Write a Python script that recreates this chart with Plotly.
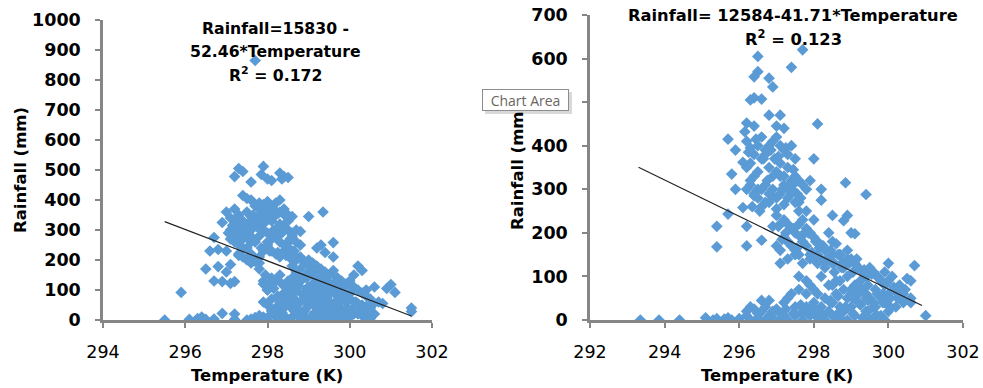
import plotly.graph_objects as go

# ---------------- data: left panel ----------------
temp_left = [
    # top / outliers
    297.7, 297.3, 297.4, 297.2, 297.6, 297.9, 297.85, 298.0, 298.1, 298.3, 298.4, 298.5, 298.35, 297.4, 297.5, 297.6,
    # left scattered
    296.7, 296.9, 296.6, 296.8, 296.5, 296.8, 296.7, 296.9, 297.1, 297.2, 297.0, 297.1, 295.9, 297.0, 297.3, 297.1,
    # zeros left
    295.5, 296.1, 296.4, 296.5, 296.7, 296.9, 297.2, 297.2, 297.6, 297.7, 297.8, 296.3, 297.5,
    # main upper blob
    297.0, 297.1, 297.2, 297.3, 297.4, 297.5, 297.6, 297.7, 297.8, 297.9, 298.0, 298.1, 298.2, 298.3, 298.4, 298.5,
    297.1, 297.2, 297.3, 297.4, 297.5, 297.6, 297.7, 297.8, 297.9, 298.0, 298.1, 298.2, 298.3, 298.4, 298.5, 298.6,
    297.2, 297.3, 297.4, 297.5, 297.6, 297.7, 297.8, 297.9, 298.0, 298.1, 298.2, 298.3, 298.4, 298.5, 298.6, 298.7,
    297.3, 297.4, 297.5, 297.6, 297.7, 297.8, 297.9, 298.0, 298.1, 298.2, 298.3, 298.4, 298.5, 298.6, 298.7, 298.8,
    297.5, 297.6, 297.4, 297.3, 297.8, 297.7, 298.0, 298.2, 298.0, 298.1, 297.9, 298.3, 298.5, 298.6, 298.7, 298.8, 298.5,
    297.25, 297.45, 297.65, 297.85, 298.05, 298.25, 298.45, 297.35, 297.55, 297.75, 297.95, 298.15, 298.35, 298.55,
    297.15, 297.35, 297.55, 297.75, 297.95, 298.15, 298.35, 298.55,
    297.05, 297.25, 297.45, 297.65, 297.85, 298.05, 298.25, 298.45, 298.65,
    # diagonal band
    298.6, 298.8, 299.0, 299.1, 299.2, 299.3, 299.4, 299.5, 299.6, 299.7, 299.8, 299.9, 300.0, 300.1, 300.2, 300.3, 300.4, 300.5,
    298.6, 298.8, 299.0, 299.1, 299.2, 299.3, 299.4, 299.5, 299.6, 299.7, 299.8, 299.9, 300.0, 300.1, 300.2, 300.3, 300.4, 300.5,
    298.6, 298.8, 299.0, 299.1, 299.2, 299.3, 299.4, 299.5, 299.6, 299.7, 299.8, 299.9, 300.0, 300.1, 300.2, 300.3, 300.4, 300.5,
    298.7, 298.9, 299.05, 299.25, 299.45, 299.65, 299.85, 300.05, 298.75, 298.95, 299.15, 299.35, 299.55, 299.75,
    # lower cluster
    297.9, 298.0, 298.1, 298.2, 298.3, 298.4, 298.5, 298.6, 298.7, 298.8, 298.9, 299.0, 299.1, 299.2, 299.3, 299.4, 299.5, 299.6, 299.7, 299.8, 299.9, 300.0,
    297.9, 298.0, 298.1, 298.2, 298.3, 298.4, 298.5, 298.6, 298.7, 298.8, 298.9, 299.0, 299.1, 299.2, 299.3, 299.4, 299.5, 299.6, 299.7, 299.8, 299.9, 300.0,
    297.9, 298.0, 298.1, 298.2, 298.3, 298.4, 298.5, 298.6, 298.7, 298.8, 298.9, 299.0, 299.1, 299.2, 299.3, 299.4, 299.5, 299.6, 299.7, 299.8, 299.9, 300.0,
    298.15, 298.35, 298.55, 298.75, 298.95, 299.15, 299.35, 299.55, 299.75, 299.95, 298.25, 298.45, 298.65, 298.85, 299.05, 299.25, 299.45, 299.65,
    298.05, 298.25, 298.45, 298.65, 298.85, 299.05, 299.25, 299.45, 299.65, 299.85, 300.05, 300.25,
    298.1, 298.3, 298.5, 298.7, 298.9, 299.1, 299.3, 299.5, 299.7, 299.9, 300.1,
    298.15, 298.35, 298.55, 298.75, 298.95, 299.15, 299.35, 299.55, 299.75, 299.95,
    # tail / misc
    300.2, 300.3, 300.6, 300.9, 301.0, 301.1, 300.8, 301.5, 301.5, 300.5, 300.6, 299.0, 299.35, 298.6, 299.6, 299.3, 299.2, 299.6, 299.4, 300.1, 300.7, 300.4,
    297.9, 298.0, 298.05, 297.8, 297.95, 300.15, 300.35, 300.55, 300.25,
]
rain_left = [
    865, 505, 495, 478, 460, 512, 485, 470, 465, 490, 478, 475, 470, 415, 405, 400,
    275, 325, 230, 235, 170, 178, 130, 128, 122, 128, 160, 185, 92, 230, 215, 270,
    0, 2, 10, 2, 3, 22, 20, 2, 3, 8, 15, 5, 0,
    360, 340, 370, 350, 330, 360, 345, 380, 390, 385, 395, 380, 390, 400, 370, 350,
    300, 290, 320, 310, 280, 300, 320, 330, 350, 340, 330, 350, 320, 310, 300, 290,
    260, 250, 270, 240, 220, 260, 280, 300, 290, 270, 280, 260, 250, 240, 270, 300,
    220, 210, 200, 190, 195, 210, 230, 250, 230, 220, 210, 230, 240, 200, 210, 250,
    300, 260, 240, 280, 190, 200, 260, 300, 370, 340, 320, 360, 330, 280, 260, 295, 240,
    330, 320, 350, 365, 360, 355, 345, 300, 285, 310, 360, 370, 310, 265,
    315, 335, 325, 345, 335, 300, 290, 270,
    290, 305, 280, 270, 240, 230, 225, 215, 230,
    230, 210, 200, 190, 180, 170, 160, 150, 165, 140, 130, 120, 130, 110, 100, 90, 80, 70,
    180, 170, 160, 150, 140, 130, 120, 110, 100, 95, 90, 80, 70, 60, 55, 50, 45, 40,
    120, 130, 110, 100, 90, 85, 70, 60, 50, 40, 35, 30, 25, 20, 20, 15, 10, 5,
    200, 190, 175, 160, 145, 120, 110, 95, 150, 140, 125, 115, 100, 75,
    60, 50, 70, 40, 30, 90, 60, 80, 100, 60, 70, 50, 60, 40, 60, 30, 40, 20, 50, 30, 10, 20,
    10, 5, 20, 10, 5, 15, 0, 10, 20, 5, 10, 0, 10, 5, 15, 0, 5, 10, 0, 5, 0, 10,
    120, 100, 30, 130, 60, 40, 110, 140, 50, 130, 30, 90, 120, 80, 100, 110, 90, 120, 80, 100, 60, 90,
    35, 25, 45, 35, 40, 25, 45, 35, 25, 40, 80, 75, 70, 85, 65, 70, 75, 60,
    15, 25, 5, 30, 20, 10, 25, 15, 30, 20, 35, 45,
    140, 150, 130, 160, 145, 155, 135, 125, 140, 115, 105,
    105, 120, 95, 115, 105, 115, 50, 55, 110, 80,
    180, 165, 110, 105, 118, 92, 55, 40, 28, 25, 20, 345, 360, 345, 258, 250, 240, 210, 225, 150, 60, 100,
    130, 100, 120, 170, 150, 60, 40, 50, 30,
]

# ---------------- data: right panel ----------------
temp_right = [
    # zeros far left
    293.35, 293.85, 294.4, 295.1, 295.4, 295.6, 295.7, 295.8, 296.0, 295.3, 296.2,
    # left scattered
    295.4, 295.4, 295.7, 295.7, 295.8, 295.9, 296.1, 296.2, 296.2, 295.9, 296.1, 296.6, 296.9,
    # top
    296.5, 296.5, 296.4, 296.8, 296.9, 296.3, 296.4, 296.6, 297.4, 297.7, 296.8, 297.1, 298.1, 296.2, 296.4, 296.15, 297.0, 297.2,
    # dense 296-297.6 at 270-430
    296.2, 296.3, 296.4, 296.5, 296.6, 296.7, 296.8, 296.9, 297.0, 297.1, 297.2, 297.3, 297.4, 297.5,
    296.2, 296.3, 296.4, 296.5, 296.6, 296.7, 296.8, 296.9, 297.0, 297.1, 297.2, 297.3, 297.4, 297.5,
    296.2, 296.3, 296.4, 296.5, 296.6, 296.7, 296.8, 296.9, 297.0, 297.1, 297.2, 297.3, 297.4, 297.5,
    296.35, 296.55, 296.75, 296.95, 297.15, 297.35, 297.55, 297.6, 297.7, 297.8, 297.9, 297.65,
    296.25, 296.45, 296.65, 296.85, 297.05, 297.25, 297.45,
    296.3, 296.5, 296.7, 296.9, 297.1, 297.3, 297.5,
    296.4, 296.6, 296.8, 297.0, 297.2, 297.4, 297.6,
    # mid band 297-299 at 120-250
    297.0, 297.1, 297.2, 297.3, 297.4, 297.5, 297.6, 297.7, 297.8, 297.9, 298.0, 298.1, 298.2, 298.3,
    297.0, 297.1, 297.2, 297.3, 297.4, 297.5, 297.6, 297.7, 297.8, 297.9, 298.0, 298.1, 298.2, 298.3,
    297.1, 297.3, 297.5, 297.7, 297.9, 298.1, 298.3, 298.5, 298.7, 298.9, 297.6, 297.8, 298.0, 298.4,
    298.0, 298.2, 298.2, 298.5, 298.9, 298.8, 299.0, 299.1, 298.85, 299.4, 298.6, 298.5,
    297.05, 297.25, 297.45, 297.65, 297.85, 298.05, 298.25, 298.45, 298.65,
    297.15, 297.35, 297.55, 297.75, 297.95, 298.15, 298.35, 298.55, 298.75,
    # lower band 298.5-300.7 at 30-170
    298.5, 298.7, 298.9, 299.0, 299.1, 299.2, 299.3, 299.4, 299.5, 299.6, 299.7, 299.8, 299.9, 300.0, 300.2, 300.4, 300.6,
    298.5, 298.7, 298.9, 299.0, 299.1, 299.2, 299.3, 299.4, 299.5, 299.6, 299.7, 299.8, 299.9, 300.0, 300.2, 300.4, 300.6,
    298.6, 298.8, 299.05, 299.25, 299.45, 299.65, 299.85, 300.05, 300.25, 300.45,
    298.55, 298.75, 298.95, 299.15, 299.35, 299.55, 299.75, 299.95, 300.15, 300.35, 300.55,
    298.45, 298.65, 298.85, 299.05, 299.25, 299.45, 299.65, 299.85, 300.05, 300.25,
    300.0, 300.7, 301.0, 300.5, 300.6, 300.3, 300.1, 299.9,
    # lower clusters near zero
    296.2, 296.3, 296.4, 296.5, 296.6, 296.7, 296.8, 296.9, 297.0, 297.1, 297.2,
    296.3, 296.5, 296.7, 296.9, 297.1, 296.6, 296.8,
    297.2, 297.3, 297.4, 297.5, 297.6, 297.7, 297.8, 297.9, 298.0, 298.1, 298.2, 298.3, 298.4, 298.5, 298.6, 298.7, 298.8, 298.9, 299.0, 299.2, 299.4, 299.6, 299.8, 300.0,
    297.3, 297.5, 297.7, 297.9, 298.1, 298.3, 298.5, 298.7, 298.9, 299.1, 299.3, 299.5, 299.7, 299.9,
    297.6, 297.8, 298.0, 298.2, 298.4, 298.6, 298.8, 299.0, 299.2, 299.4,
    297.7, 297.9, 298.1, 297.8,
    297.25, 297.45, 297.65, 297.85, 298.05, 298.25, 298.45, 298.65, 298.85, 299.05, 299.25, 299.45, 299.65, 299.85,
]
rain_right = [
    0, 0, 0, 5, 3, 2, 5, 0, 3, 0, 10,
    215, 168, 243, 415, 335, 300, 258, 215, 170, 390, 362, 183, 215,
    605, 570, 558, 555, 535, 505, 510, 507, 580, 620, 470, 470, 450, 452, 445, 432, 445, 440,
    410, 395, 380, 400, 420, 390, 400, 410, 420, 400, 390, 380, 400, 370,
    350, 360, 330, 340, 370, 380, 350, 330, 340, 360, 330, 350, 320, 330,
    300, 310, 290, 280, 300, 270, 290, 300, 280, 290, 310, 280, 300, 270,
    260, 250, 320, 370, 300, 310, 290, 320, 310, 300, 320, 280,
    385, 415, 370, 390, 375, 395, 345,
    320, 300, 310, 285, 330, 300, 315,
    285, 260, 270, 255, 265, 290, 270,
    240, 220, 230, 220, 210, 200, 220, 230, 210, 200, 190, 180, 170, 160,
    170, 160, 190, 180, 170, 160, 150, 180, 170, 150, 140, 150, 140, 130,
    130, 140, 150, 130, 140, 130, 120, 180, 150, 140, 250, 250, 230, 200,
    370, 300, 275, 240, 240, 228, 200, 198, 315, 288, 175, 150,
    215, 200, 210, 190, 200, 180, 170, 160, 150,
    185, 175, 165, 200, 155, 165, 140, 130, 130,
    130, 150, 160, 140, 130, 120, 110, 100, 120, 110, 100, 90, 80, 90, 70, 60, 50,
    80, 90, 100, 70, 80, 60, 70, 60, 50, 40, 60, 50, 40, 60, 30, 40, 40,
    60, 120, 110, 90, 80, 70, 60, 50, 60, 70,
    110, 120, 130, 140, 115, 105, 95, 85, 75, 60, 45,
    45, 55, 30, 50, 35, 45, 30, 40, 30, 50,
    130, 125, 10, 95, 90, 80, 100, 110,
    20, 30, 25, 15, 20, 30, 10, 20, 25, 15, 10,
    0, 5, 0, 5, 0, 45, 45,
    40, 50, 60, 30, 70, 20, 60, 80, 40, 60, 30, 50, 20, 40, 10, 30, 20, 50, 30, 40, 20, 30, 10, 20,
    0, 10, 0, 10, 5, 0, 10, 5, 0, 10, 5, 0, 10, 0,
    100, 90, 70, 100, 80, 90, 70, 60, 70, 50,
    15, 25, 15, 30,
    25, 15, 35, 15, 25, 10, 40, 15, 25, 15, 35, 20, 10, 5,
]

# trend lines (equations from the chart)
trend_left_intercept, trend_left_slope = 15830, -52.46
trend_left_x = [295.5, 301.5]
trend_right_intercept, trend_right_slope = 12584, -41.71
trend_right_x = [293.3, 300.9]

left_x_ticks = [294, 296, 298, 300, 302]
right_x_ticks = [292, 294, 296, 298, 300, 302]

MARKER = "#5B9BD5"
AXIS = "#868686"
FONT = "DejaVu Sans"
W, H = 983, 388

fig = go.Figure()
fig.add_trace(go.Scatter(x=temp_left, y=rain_left, mode="markers", xaxis="x", yaxis="y",
                         marker=dict(symbol="diamond", size=9, color=MARKER, line=dict(width=0)),
                         showlegend=False))
fig.add_trace(go.Scatter(x=trend_left_x,
                         y=[trend_left_intercept + trend_left_slope * t for t in trend_left_x],
                         mode="lines", xaxis="x", yaxis="y",
                         line=dict(color="#222222", width=1.2), showlegend=False))
fig.add_trace(go.Scatter(x=temp_right, y=rain_right, mode="markers", xaxis="x2", yaxis="y2",
                         marker=dict(symbol="diamond", size=9, color=MARKER, line=dict(width=0)),
                         showlegend=False))
fig.add_trace(go.Scatter(x=trend_right_x,
                         y=[trend_right_intercept + trend_right_slope * t for t in trend_right_x],
                         mode="lines", xaxis="x2", yaxis="y2",
                         line=dict(color="#222222", width=1.2), showlegend=False))


def px_x(p):
    return p / W


def px_y(p):
    return 1 - p / H


axis_common = dict(showline=True, linecolor=AXIS, linewidth=2.5, ticks="outside",
                   ticklen=5, tickwidth=2, tickcolor=AXIS, showgrid=False, zeroline=False,
                   automargin=False, ticklabeloverflow="allow")

fig.update_layout(
    width=W, height=H, margin=dict(l=0, r=0, t=0, b=0),
    paper_bgcolor="white", plot_bgcolor="white",
    font=dict(family=FONT, color="black"),
    xaxis=dict(domain=[px_x(103), px_x(432)], range=[294, 302], tickvals=left_x_ticks,
               anchor="y", tickfont=dict(size=17.5, family=FONT), ticklabelstandoff=9,
               **axis_common),
    yaxis=dict(domain=[px_y(320), px_y(20)], range=[0, 1000], dtick=100,
               anchor="x", tickfont=dict(size=17.5, family=FONT), ticklabelstandoff=11,
               tickprefix="<b>", ticksuffix="</b>", **axis_common),
    xaxis2=dict(domain=[px_x(590), px_x(963)], range=[292, 302], tickvals=right_x_ticks,
                anchor="y2", tickfont=dict(size=17.5, family=FONT), ticklabelstandoff=9,
                tickprefix="<b>", ticksuffix="</b>", **axis_common),
    yaxis2=dict(domain=[px_y(320), px_y(15)], range=[0, 700], dtick=100,
                anchor="x2", tickfont=dict(size=17.5, family=FONT), ticklabelstandoff=11,
                tickprefix="<b>", ticksuffix="</b>", **axis_common),
)

ann = []


def txt(x, y, s, size=15, bold=True, angle=0, color="black"):
    ann.append(dict(x=px_x(x), y=px_y(y), xref="paper", yref="paper", showarrow=False,
                    text=("<b>%s</b>" % s) if bold else s, textangle=angle,
                    font=dict(size=size, family=FONT, color=color),
                    xanchor="center", yanchor="middle"))


# left equation
txt(275, 29, "Rainfall=15830 -", 15.7)
txt(275, 52, "52.46*Temperature", 15.7)
txt(275, 75, "R<sup>2</sup> = 0.172", 15.7)
# right equation
txt(793, 16, "Rainfall= 12584-41.71*Temperature", 16.3)
txt(793, 38, "R<sup>2</sup> = 0.123", 16.3)
# axis titles
txt(20, 170, "Rainfall (mm)", 16.5, angle=-90)
txt(517, 167, "Rainfall (mm)", 16.5, angle=-90)
txt(267, 375, "Temperature (K)", 16.5)
txt(777, 375, "Temperature (K)", 16.5)

# "Chart Area" tooltip
ann.append(dict(x=px_x(482), y=px_y(89), xref="paper", yref="paper", showarrow=False,
                text="Chart Area", xanchor="left", yanchor="top",
                width=83, height=18,
                font=dict(size=14, family="Open Sans", color="#6b6560"),
                bgcolor="white", bordercolor="#8c8c8c", borderwidth=1, borderpad=1))
fig.update_layout(annotations=ann)

# shadow of the tooltip
fig.add_shape(type="rect", xref="paper", yref="paper",
              x0=px_x(485), x1=px_x(572), y0=px_y(114), y1=px_y(92),
              fillcolor="#d9d9d9", line=dict(width=0), layer="above")

# the page's default 8px body margin would push the fixed-size figure off its place
fig.write_html("out.html",
               config={"displayModeBar": False},
               post_script="document.body.style.margin='0';document.body.style.overflow='hidden';")
